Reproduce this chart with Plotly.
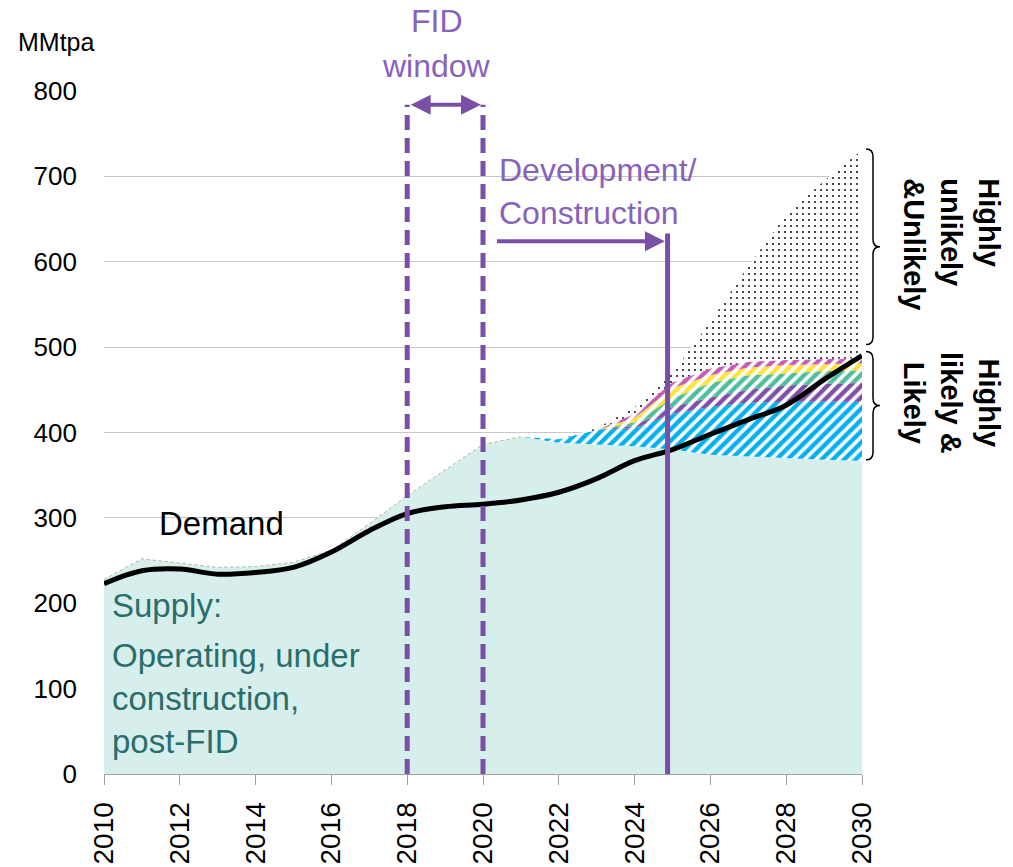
import plotly.graph_objects as go

# MMtpa, one value per year
years = list(range(2010, 2031))
supply_base = [228, 252, 247, 242, 243, 248, 262, 293, 326, 356, 386,
               395, 388, 386, 384, 380, 374, 372, 370, 368, 367]
layer_cyan = [0] * 11 + [0, 4, 17, 21, 42, 56, 63, 66, 68, 69]
layer_purple = [0] * 14 + [3, 8, 11, 15, 19, 21, 22]
layer_green = [0] * 14 + [4, 10, 17, 17, 14, 15, 15]
layer_yellow = [0] * 14 + [5, 12, 9, 9, 10, 8, 8]
layer_magenta = [0] * 14 + [5, 7, 8, 7, 6, 6, 6]
layer_unlikely = [0] * 13 + [2, 8, 11, 55, 112, 170, 209, 244]
demand = [223, 238, 240, 234, 236, 242, 260, 285, 305, 313, 316,
          321, 330, 346, 367, 380, 398, 415, 432, 462, 490]

y_ticks = [0, 100, 200, 300, 400, 500, 600, 700, 800]
x_ticks = list(range(2010, 2031, 2))

FONT = "Liberation Sans, Arial, sans-serif"
PURPLE = "#7a50a6"
PURPLE_TXT = "#8762bb"
TEAL_TXT = "#2b6d6a"

fig = go.Figure()

fig.add_trace(go.Scatter(x=years, y=supply_base, stackgroup="s", mode="lines",
                         line=dict(width=0), fillcolor="#d6efec"))
hatch = [(layer_cyan, "#00b0f0"), (layer_purple, "#7f4fa8"), (layer_green, "#4dbf9d"),
         (layer_yellow, "#ffe23a"), (layer_magenta, "#c45bb8")]
for vals, col in hatch:
    fig.add_trace(go.Scatter(x=years, y=vals, stackgroup="s", mode="lines", line=dict(width=0),
                             fillcolor=col,
                             fillpattern=dict(shape="/", fgcolor=col, bgcolor="white",
                                              fgopacity=1, size=8, solidity=0.55)))
fig.add_trace(go.Scatter(x=years, y=layer_unlikely, stackgroup="s", mode="lines", line=dict(width=0),
                         fillcolor="black",
                         fillpattern=dict(shape=".", fgcolor="black", bgcolor="white",
                                          fgopacity=1, size=6, solidity=0.08)))

# faint outline of the supply top
fig.add_trace(go.Scatter(x=years[:12], y=supply_base[:12], mode="lines",
                         line=dict(color="#b8ae98", width=1, dash="dot")))

fig.add_trace(go.Scatter(x=years, y=demand, mode="lines",
                         line=dict(color="black", width=5, shape="spline")))

# FID window
for xv in (2018, 2020):
    fig.add_shape(type="line", x0=xv, x1=xv, y0=0, y1=784, xref="x", yref="y",
                  line=dict(color=PURPLE, width=5, dash="15px,8px"))
fig.add_annotation(x=2020, y=784, ax=2018, ay=784, xref="x", yref="y", axref="x", ayref="y",
                   text="", showarrow=True, arrowside="end+start", arrowhead=2,
                   arrowsize=1, arrowwidth=4, arrowcolor=PURPLE, standoff=2, startstandoff=2)
fig.add_annotation(x=0.4393, y=1.1025, xref="paper", yref="paper", text="FID", showarrow=False,
                   xanchor="center", yanchor="middle", font=dict(size=32, color=PURPLE_TXT))
fig.add_annotation(x=0.438, y=1.0366, xref="paper", yref="paper", text="window", showarrow=False,
                   xanchor="center", yanchor="middle", font=dict(size=32, color=PURPLE_TXT))

# Development / construction
fig.add_shape(type="line", x0=2024.87, x1=2024.87, y0=0, y1=633, xref="x", yref="y",
              line=dict(color=PURPLE, width=5))
fig.add_annotation(x=2024.8, y=624, ax=2020.33, ay=624, xref="x", yref="y", axref="x", ayref="y",
                   text="", showarrow=True, arrowhead=2, arrowsize=1, arrowwidth=4,
                   arrowcolor=PURPLE)
fig.add_annotation(x=2020.36, y=708, xref="x", yref="y", text="Development/", showarrow=False,
                   xanchor="left", font=dict(size=32, color=PURPLE_TXT))
fig.add_annotation(x=2020.36, y=657, xref="x", yref="y", text="Construction", showarrow=False,
                   xanchor="left", font=dict(size=32, color=PURPLE_TXT))

# labels
fig.add_annotation(x=2013.1, y=294, xref="x", yref="y", text="Demand", showarrow=False,
                   font=dict(size=33, color="black"))
fig.add_annotation(x=2010.15, y=197, xref="x", yref="y", text="Supply:", showarrow=False,
                   xanchor="left", font=dict(size=33, color=TEAL_TXT))
fig.add_annotation(x=2010.15, y=88, xref="x", yref="y",
                   text="Operating, under<br>construction,<br>post-FID", showarrow=False,
                   xanchor="left", align="left", font=dict(size=33, color=TEAL_TXT))
fig.add_annotation(x=-0.0633, y=1.0718, xref="paper", yref="paper", text="MMtpa", showarrow=False,
                   xanchor="center", yanchor="middle", font=dict(size=25, color="black"))

# braces on the right
def brace(top, bot):
    mid = (top + bot) / 2
    x0, x1, x2 = 1.0053, 1.0145, 1.0237
    r = 9
    return (f"M {x0},{top} Q {x1},{top} {x1},{top - r} L {x1},{mid + r} "
            f"Q {x1},{mid} {x2},{mid} Q {x1},{mid} {x1},{mid - r} "
            f"L {x1},{bot + r} Q {x1},{bot} {x0},{bot}")

fig.add_shape(type="path", path=brace(732, 503), xref="paper", yref="y",
              line=dict(color="black", width=1.5))
fig.add_shape(type="path", path=brace(495, 368), xref="paper", yref="y",
              line=dict(color="black", width=1.5))
fig.add_annotation(x=1.118, y=620, xref="paper", yref="y", text="Highly<br>unlikely<br>&Unlikely",
                   showarrow=False, textangle=90, align="left", xanchor="center", yanchor="middle",
                   font=dict(size=29, color="black", family="Liberation Sans, Arial", weight="bold"))
fig.add_annotation(x=1.118, y=434, xref="paper", yref="y", text="Highly<br>likely &<br>Likely",
                   showarrow=False, textangle=90, align="center", xanchor="center", yanchor="middle",
                   font=dict(size=29, color="black", family="Liberation Sans, Arial", weight="bold"))

fig.update_layout(
    width=1013, height=867,
    margin=dict(l=104, r=151, t=91, b=93),
    plot_bgcolor="white", paper_bgcolor="white",
    showlegend=False,
    font=dict(family=FONT, color="black"),
)
fig.update_xaxes(range=[2010, 2030], tickvals=x_ticks, tickangle=-90,
                 tickfont=dict(size=28, color="black"), showgrid=False, zeroline=False,
                 showline=True, linecolor="#a0a0a0", linewidth=1, automargin=False,
                 ticks="outside", ticklen=10, tickcolor="#a0a0a0", ticklabelstandoff=6)
fig.update_yaxes(range=[0, 800], tickvals=y_ticks, tickfont=dict(size=26, color="black"),
                 showgrid=True, gridcolor="#c8c8c8", gridwidth=1, zeroline=False, automargin=False,
                 showline=False, ticks="", ticklabelstandoff=26)

fig.write_html("out.html", config={"displayModeBar": False},
               post_script="document.body.style.margin='0';")
